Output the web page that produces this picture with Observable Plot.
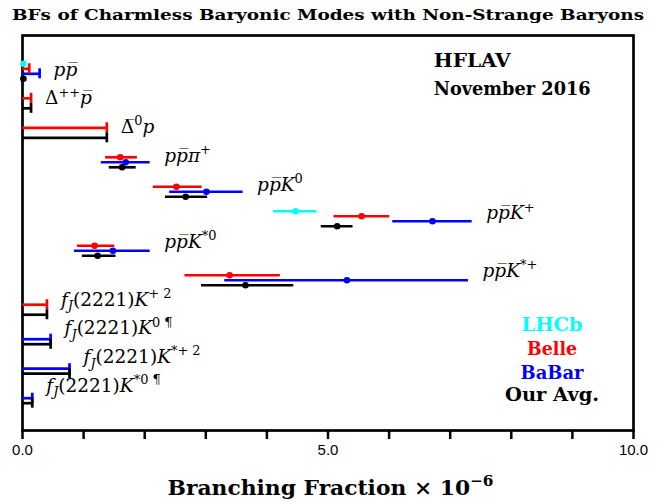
<!DOCTYPE html>
<html>
<head>
<meta charset="utf-8">
<script src="https://cdn.jsdelivr.net/npm/d3@7"></script>
<script src="https://cdn.jsdelivr.net/npm/@observablehq/plot@0.6"></script>
<style>
  body { margin: 0; background: #fff; }
  #chart svg { display: block; }
</style>
</head>
<body>
<div id="chart"></div>
<script>
// ---- data (branching fractions in units of 10^-6) ----
const modes = [
  "pp\u0305",
  "\u0394^{++}p\u0305",
  "\u0394\u0305^{0}p",
  "pp\u0305\u03c0^{+}",
  "pp\u0305K^{0}",
  "pp\u0305K^{+}",
  "pp\u0305K^{*0}",
  "pp\u0305K^{*+}",
  "f_{J}(2221)K^{+ 2}",
  "f_{J}(2221)K^{0 \u00b6}",
  "f_{J}(2221)K^{*+ 2}",
  "f_{J}(2221)K^{*0 \u00b6}"
];
const experiments = ["LHCb", "Belle", "BaBar", "Our Avg."];
const expColors = ["#00ffff", "#ff0000", "#0000ff", "#000000"];

// measurements: [mode index, central, low edge, high edge]
const lhcbMeas  = [[0, 0.015, 0.012, 0.019], [5, 4.47, 4.11, 4.82]];
const belleMeas = [[3, 1.60, 1.36, 1.88], [4, 2.52, 2.14, 2.94], [5, 5.55, 5.10, 6.01],
                   [6, 1.18, 0.90, 1.51], [7, 3.39, 2.66, 4.22]];
const babarMeas = [[3, 1.69, 1.29, 2.09], [4, 3.01, 2.41, 3.61], [5, 6.71, 6.06, 7.36],
                   [6, 1.48, 0.85, 2.09], [7, 5.31, 3.31, 7.30]];
const avgMeas   = [[0, 0.015, 0.012, 0.019], [3, 1.63, 1.42, 1.86], [4, 2.67, 2.34, 3.03],
                   [5, 5.15, 4.89, 5.41], [6, 1.23, 0.98, 1.53], [7, 3.65, 2.93, 4.44]];

// upper limits: [mode index, limit]
const lhcbLimits  = [];
const belleLimits = [[0, 0.11], [1, 0.14], [2, 1.38], [8, 0.40]];
const babarLimits = [[0, 0.28], [9, 0.46], [10, 0.77], [11, 0.16]];
const avgLimits   = [[1, 0.14], [2, 1.38], [8, 0.40], [9, 0.46], [10, 0.77], [11, 0.16]];

const xTicks = d3.range(0, 11);

// ---- build tables ----
const SLOT = 5 / 29.5; // vertical offset between experiments (row units)
const measByExp = [lhcbMeas, belleMeas, babarMeas, avgMeas];
const limByExp = [lhcbLimits, belleLimits, babarLimits, avgLimits];
const meas = [], lims = [];
measByExp.forEach((arr, e) => arr.forEach(([m, c, lo, hi]) =>
  meas.push({mode: m, exp: e, c, lo, hi, y: m + (e - 1.5) * SLOT, color: expColors[e]})));
limByExp.forEach((arr, e) => arr.forEach(([m, ul]) =>
  lims.push({mode: m, exp: e, ul, y: m + (e - 1.5) * SLOT, color: expColors[e]})));

const labelRows = modes.map((t, i) => {
  const ends = meas.filter(d => d.mode === i).map(d => d.hi)
    .concat(lims.filter(d => d.mode === i).map(d => d.ul));
  return {text: t, x: d3.max(ends), y: i * 0.974 - 0.05};
});

const serif = "'DejaVu Serif', 'Liberation Serif', serif";
const CAP = 0.17;
const LABEL_SIZE = 18.5;

const plot = Plot.plot({
  width: 665,
  height: 504,
  marginLeft: 22,
  marginRight: 32,
  marginTop: 35,
  marginBottom: 74,
  style: {fontFamily: "'Liberation Sans', Arial, sans-serif", fontSize: "15px", background: "#fff"},
  x: {domain: [0, 10]},
  y: {domain: [-1.214, 12.18], reverse: true, axis: null},
  marks: [
    Plot.frame({stroke: "#000", strokeWidth: 2.7}),
    Plot.axisX({ticks: xTicks, tickSize: 9, tickPadding: 5, strokeWidth: 2.5,
      tickFormat: d => d % 5 === 0 ? d.toFixed(1) : "", label: null, fontSize: 15}),
    // upper limits
    Plot.ruleY(lims, {y: "y", x1: 0, x2: "ul", stroke: "color", strokeWidth: 2.7}),
    Plot.ruleX(lims, {x: "ul", y1: d => d.y - CAP, y2: d => d.y + CAP, stroke: "color", strokeWidth: 2.7}),
    // measurements
    Plot.ruleY(meas, {y: "y", x1: "lo", x2: "hi", stroke: "color", strokeWidth: 2.7}),
    Plot.dot(meas, {x: "c", y: "y", r: 3.3, fill: "color", stroke: "none"}),
    // mode labels
    Plot.text(labelRows, {x: "x", y: "y", text: "text", dx: 14, textAnchor: "start",
      fontFamily: serif, fontSize: LABEL_SIZE, lineAnchor: "middle"}),
    // legend
    Plot.text(experiments, {x: 8.667, y: (d, i) => [8.6, 9.41, 10.25, 10.98][i], text: d => d,
      fill: (d, i) => expColors[i], fontFamily: serif, fontWeight: "bold", fontSize: 18}),
    // annotations
    Plot.text(["HFLAV"], {x: 6.73, y: -0.356, text: d => d, textAnchor: "start",
      fontFamily: serif, fontWeight: "bold", fontSize: 18}),
    Plot.text(["November 2016"], {x: 6.73, y: 0.593, text: d => d, textAnchor: "start",
      fontFamily: serif, fontWeight: "bold", fontSize: 18}),
    Plot.text(["BFs of Charmless Baryonic Modes with Non-Strange Baryons"], {frameAnchor: "top",
      dy: -20, text: d => d, fontFamily: serif, fontWeight: "bold", fontSize: 15, lineAnchor: "middle"}),
    Plot.text(["Branching Fraction \u00d7 10^{\u22126}"], {frameAnchor: "bottom", dy: 58, dx: 2.5,
      text: d => d, fontFamily: serif, fontWeight: "bold", fontSize: 21, lineAnchor: "middle"})
  ]
});

// render simple math markup (^{..} superscript, _{..} subscript, italic letters) as tspans
function mathify(el, src, size, italicLetters) {
  const segs = [];
  let i = 0;
  while (i < src.length) {
    if ((src[i] === "^" || src[i] === "_") && src[i + 1] === "{") {
      const end = src.indexOf("}", i);
      segs.push({text: src.slice(i + 2, end), lvl: src[i] === "^" ? 1 : -1});
      i = end + 1;
    } else {
      let j = i;
      while (j < src.length && !((src[j] === "^" || src[j] === "_") && src[j + 1] === "{")) j++;
      segs.push({text: src.slice(i, j), lvl: 0});
      i = j;
    }
  }
  const sel = d3.select(el);
  sel.text(null);
  let cur = 0;
  for (const seg of segs) {
    const target = seg.lvl === 1 ? -0.42 * size : seg.lvl === -1 ? 0.25 * size : 0;
    const fs = seg.lvl ? 0.7 * size : size;
    const runs = [];
    for (const ch of seg.text) {
      const isComb = /[\u0300-\u036f]/.test(ch);
      const it = isComb ? (runs.length ? runs[runs.length - 1].it : false)
                        : (italicLetters && /[A-Za-z\u03c0]/.test(ch));
      if (runs.length && runs[runs.length - 1].it === it) runs[runs.length - 1].t += ch;
      else runs.push({t: ch, it});
    }
    runs.forEach((r, k) => {
      const ts = sel.append("tspan").attr("font-size", fs)
        .attr("font-style", r.it ? "italic" : "normal").text(r.t);
      if (k === 0 && target !== cur) ts.attr("dy", target - cur);
      cur = target;
    });
  }
}

// widths of the bold texts as measured on the reference (px)
const textWidths = {
  "BFs of Charmless Baryonic Modes with Non-Strange Baryons": 632,
  "HFLAV": 77, "November 2016": 157,
  "LHCb": 61, "Belle": 50, "BaBar": 63, "Our Avg.": 94
};

const svg = d3.select(plot);
svg.selectAll("text").each(function () {
  const t = this.textContent;
  if (modes.includes(t)) mathify(this, t, LABEL_SIZE, true);
  else if (t.startsWith("Branching")) {
    mathify(this, t, 21, false);
    d3.select(this).attr("textLength", 326).attr("lengthAdjust", "spacingAndGlyphs");
  } else if (textWidths[t]) {
    d3.select(this).attr("textLength", textWidths[t]).attr("lengthAdjust", "spacingAndGlyphs");
  }
});

document.getElementById("chart").append(plot);
</script>
</body>
</html>
